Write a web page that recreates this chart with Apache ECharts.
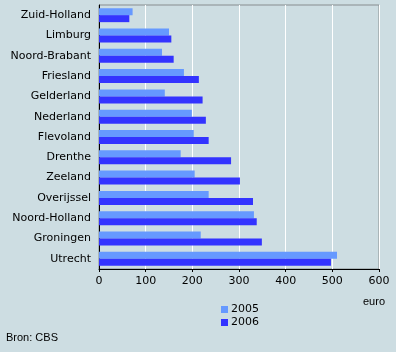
<!DOCTYPE html>
<html style="height: 100%">
<head>
<meta charset="utf-8">
<script src="https://cdn.jsdelivr.net/npm/echarts@6/dist/echarts.min.js"></script>
</head>
<body style="height: 100%; margin: 0; background: #cddde2">
<div id="container" style="width: 396px; height: 352px"></div>
<script type="text/javascript">
const provinces = ['Zuid-Holland', 'Limburg', 'Noord-Brabant', 'Friesland', 'Gelderland', 'Nederland',
    'Flevoland', 'Drenthe', 'Zeeland', 'Overijssel', 'Noord-Holland', 'Groningen', 'Utrecht'];
const values2005 = [72, 150, 135, 182, 141, 199, 203, 175, 205, 235, 332, 218, 510];
const values2006 = [65, 155, 160, 214, 222, 229, 235, 283, 302, 330, 338, 349, 497];
const xTicks = [0, 100, 200, 300, 400, 500, 600];

const myChart = echarts.init(document.getElementById('container'));
const font = 'DejaVu Sans, Verdana, sans-serif';

const option = {
    backgroundColor: '#cddde2',
    animation: false,
    textStyle: { fontFamily: font },
    grid: {
        left: 99, top: 5, width: 280, height: 264,
        show: true, borderColor: '#878c8f', borderWidth: 1, backgroundColor: 'transparent'
    },
    legend: {
        orient: 'vertical',
        left: 216, top: 299,
        itemWidth: 7, itemHeight: 7, itemGap: 2,
        icon: 'rect',
        textStyle: { fontSize: 11, color: '#000', fontFamily: font, padding: [0, 0, 0, -2] },
        data: ['2005', '2006']
    },
    xAxis: {
        type: 'value',
        min: xTicks[0], max: xTicks[xTicks.length - 1], interval: 100,
        axisLine: { show: true, lineStyle: { color: '#000', width: 1 } },
        axisTick: { show: true, length: 3, lineStyle: { color: '#000' } },
        axisLabel: { fontSize: 11, color: '#000', margin: 7, fontFamily: font },
        splitLine: { show: true, lineStyle: { color: '#ffffff', width: 1 } }
    },
    yAxis: {
        type: 'category',
        inverse: true,
        data: provinces,
        axisLine: { show: true, lineStyle: { color: '#000', width: 1 } },
        axisTick: { show: false },
        axisLabel: { fontSize: 11, color: '#000', margin: 8, fontFamily: font },
        splitLine: { show: false }
    },
    series: [
        {
            name: '2005', type: 'bar', data: values2005,
            itemStyle: { color: '#6699ff' },
            barGap: 0, barCategoryGap: '31%'
        },
        {
            name: '2006', type: 'bar', data: values2006,
            itemStyle: { color: '#3333ff' },
            barGap: 0, barCategoryGap: '31%'
        }
    ],
    graphic: [
        { type: 'text', left: 363, top: 296, style: { text: 'euro', fontSize: 11, fill: '#000', font: '11px ' + font } },
        { type: 'text', left: 6, top: 332, style: { text: 'Bron: CBS', fontSize: 11, fill: '#000', font: '11px ' + font } }
    ]
};

myChart.setOption(option);
</script>
</body>
</html>
